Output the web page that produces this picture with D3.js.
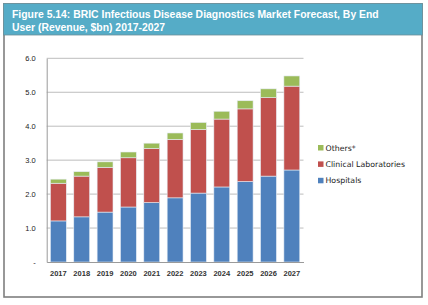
<!DOCTYPE html>
<html>
<head>
<meta charset="utf-8">
<script src="https://cdn.jsdelivr.net/npm/d3@7"></script>
<style>
  body { margin: 0; background: #fff; }
  svg { display: block; }
</style>
</head>
<body>
<svg id="chart"></svg>
<script>
// Data
const years = ["2017", "2018", "2019", "2020", "2021", "2022", "2023", "2024", "2025", "2026", "2027"];
const hospitals = [1.21, 1.33, 1.47, 1.62, 1.75, 1.89, 2.03, 2.21, 2.37, 2.53, 2.71];
const clinicalLabs = [1.11, 1.20, 1.32, 1.45, 1.59, 1.72, 1.87, 2.00, 2.14, 2.31, 2.47];
const others = [0.12, 0.13, 0.16, 0.17, 0.16, 0.19, 0.21, 0.23, 0.24, 0.26, 0.30];
const seriesNames = ["Hospitals", "Clinical Laboratories", "Others*"];
const yTicks = [0, 1, 2, 3, 4, 5, 6];

const width = 428;
const height = 305;

const svg = d3.select("#chart")
  .attr("width", width)
  .attr("height", height);

// Frame and title banner
svg.append("rect")
  .attr("x", 4).attr("y", 4)
  .attr("width", 418).attr("height", 293)
  .attr("fill", "#fff")
  .attr("stroke", "#7f7f7f")
  .attr("stroke-width", 1.6);

svg.append("rect")
  .attr("x", 3.5).attr("y", 3.5)
  .attr("width", 419).attr("height", 31.5)
  .attr("fill", "#55acc7")
  .attr("stroke", "#6c8f9a")
  .attr("stroke-width", 0.8);

const title = svg.append("text")
  .attr("fill", "#fff")
  .attr("font-family", "Liberation Sans, Arial, sans-serif")
  .attr("font-weight", "bold")
  .attr("font-size", 10.4);
title.append("tspan").attr("x", 12).attr("y", 18)
  .text("Figure 5.14: BRIC Infectious Disease Diagnostics Market Forecast, By End");
title.append("tspan").attr("x", 12).attr("y", 31)
  .text("User (Revenue, $bn) 2017-2027");

// Scales
const x = d3.scaleBand()
  .domain(years)
  .range([46.7, 303.5])
  .paddingInner(0.32)
  .paddingOuter(0.16);

const y = d3.scaleLinear()
  .domain([0, 6])
  .range([262, 58.3]);

// Gridlines
svg.append("g")
  .selectAll("line")
  .data(yTicks.filter(d => d > 0))
  .enter()
  .append("line")
  .attr("x1", 46.7)
  .attr("x2", 303.5)
  .attr("y1", d => y(d))
  .attr("y2", d => y(d))
  .attr("stroke", "#bdbdbd")
  .attr("stroke-width", 1);

// Stack
const rows = years.map((yr, i) => ({
  year: yr,
  "Hospitals": hospitals[i],
  "Clinical Laboratories": clinicalLabs[i],
  "Others*": others[i]
}));
const stacked = d3.stack().keys(seriesNames)(rows);
const color = d3.scaleOrdinal()
  .domain(seriesNames)
  .range(["#4f81bd", "#c0504d", "#9bbb59"]);

svg.append("g")
  .selectAll("g")
  .data(stacked)
  .enter()
  .append("g")
  .attr("fill", d => color(d.key))
  .selectAll("rect")
  .data(d => d)
  .enter()
  .append("rect")
  .attr("x", d => x(d.data.year))
  .attr("width", x.bandwidth())
  .attr("y", d => y(d[1]))
  .attr("height", d => y(d[0]) - y(d[1]))
  .attr("stroke", "#e6edf5")
  .attr("stroke-width", 0.6);

// Axes
const yAxis = d3.axisLeft(y)
  .tickValues(yTicks)
  .tickSize(0)
  .tickPadding(11)
  .tickFormat(d => d === 0 ? "-" : d3.format(".1f")(d));

const gy = svg.append("g")
  .attr("transform", "translate(46.7,0)")
  .call(yAxis);
gy.select(".domain").attr("stroke", "#9a9a9a");
gy.selectAll("text")
  .attr("font-family", "Liberation Sans, Arial, sans-serif")
  .attr("font-size", 7.5)
  .attr("fill", "#222");

const xAxis = d3.axisBottom(x)
  .tickSize(0)
  .tickPadding(9);

const gx = svg.append("g")
  .attr("transform", "translate(0,262)")
  .call(xAxis);
gx.select(".domain").attr("stroke", "#9a9a9a");
gx.selectAll("text")
  .attr("font-family", "Liberation Sans, Arial, sans-serif")
  .attr("font-size", 7.5)
  .attr("font-weight", "bold")
  .attr("fill", "#333");

// Legend
const legendItems = ["Others*", "Clinical Laboratories", "Hospitals"];
const legend = svg.append("g")
  .selectAll("g")
  .data(legendItems)
  .enter()
  .append("g")
  .attr("transform", (d, i) => `translate(318,${150 + i * 16.4})`);

legend.append("rect")
  .attr("x", 0).attr("y", -5)
  .attr("width", 5.5).attr("height", 5.5)
  .attr("fill", d => color(d));

legend.append("text")
  .attr("x", 7.5)
  .attr("y", 0.5)
  .attr("font-family", "DejaVu Sans, Verdana, sans-serif")
  .attr("font-size", 7.8)
  .attr("fill", "#222")
  .text(d => d);
</script>
</body>
</html>
